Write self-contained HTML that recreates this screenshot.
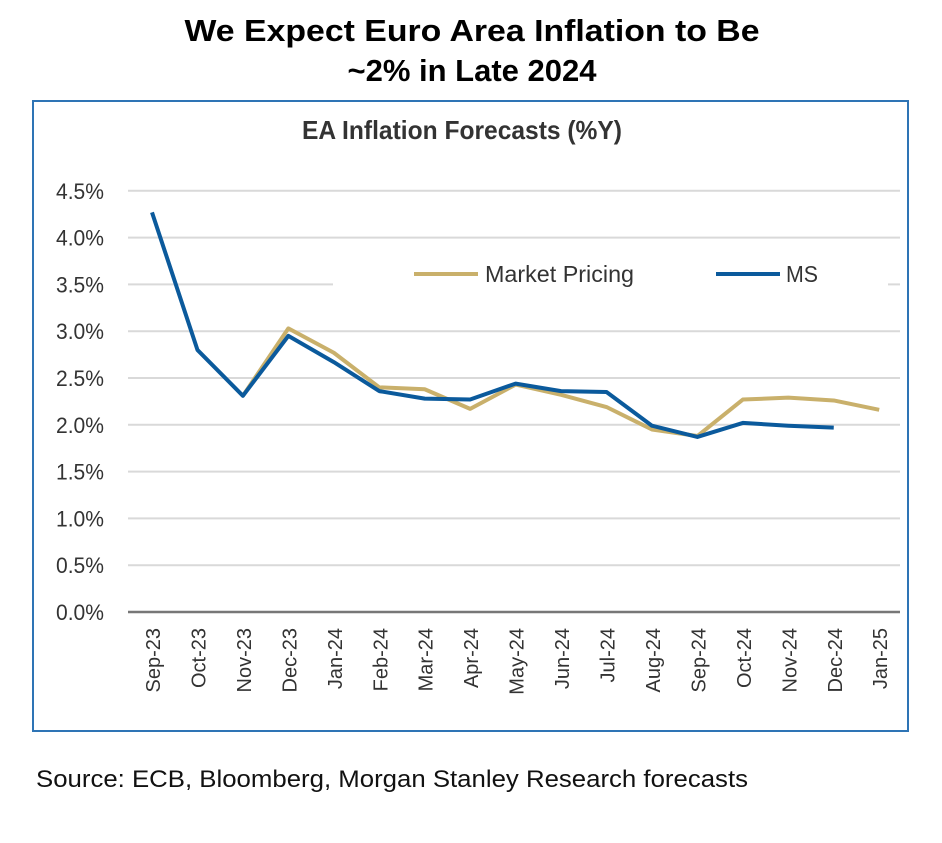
<!DOCTYPE html>
<html><head><meta charset="utf-8"><style>
body{margin:0;background:#fff;width:942px;height:838px;overflow:hidden;font-family:"Liberation Sans",sans-serif}
</style></head><body>
<svg width="942" height="838">
<text x="472" y="41" text-anchor="middle" font-size="31" font-weight="bold" textLength="575" lengthAdjust="spacingAndGlyphs">We Expect Euro Area Inflation to Be</text>
<text x="472" y="81" text-anchor="middle" font-size="31" font-weight="bold">~2% in Late 2024</text>
<rect x="33" y="101" width="875" height="630" fill="none" stroke="#2e74b5" stroke-width="2"/>
<text x="462" y="139" text-anchor="middle" font-size="26" font-weight="bold" fill="#333" textLength="320" lengthAdjust="spacingAndGlyphs">EA Inflation Forecasts (%Y)</text>
<g id="grid"></g><g id="lines"></g><g id="labels"></g>
<rect x="333" y="250" width="555" height="45" fill="#fff"/>
<line x1="414" y1="274" x2="478" y2="274" stroke="#c9b06b" stroke-width="4"/>
<text x="485" y="282" font-size="23" fill="#333" textLength="149" lengthAdjust="spacingAndGlyphs">Market Pricing</text>
<line x1="716" y1="274" x2="780" y2="274" stroke="#0b5a9c" stroke-width="4"/>
<text x="786" y="282" font-size="23" fill="#333" textLength="32" lengthAdjust="spacingAndGlyphs">MS</text>
<text x="36" y="787" font-size="24" fill="#111" textLength="712" lengthAdjust="spacingAndGlyphs">Source: ECB, Bloomberg, Morgan Stanley Research forecasts</text>
</svg>
<script>
const categories=["Sep-23","Oct-23","Nov-23","Dec-23","Jan-24","Feb-24","Mar-24","Apr-24","May-24","Jun-24","Jul-24","Aug-24","Sep-24","Oct-24","Nov-24","Dec-24","Jan-25"];
const marketValues=[null,null,2.31,3.03,2.77,2.40,2.38,2.17,2.43,2.32,2.19,1.95,1.88,2.27,2.29,2.26,2.16];
const msValues=[4.27,2.80,2.31,2.95,2.67,2.36,2.28,2.27,2.44,2.36,2.35,1.99,1.87,2.02,1.99,1.97,null];
const yTicks=[0,0.5,1,1.5,2,2.5,3,3.5,4,4.5];
const NS="http://www.w3.org/2000/svg";
const xS=i=>152+i*45.45;
const yS=v=>612-v*93.6;
const grid=document.getElementById('grid'),lines=document.getElementById('lines'),labels=document.getElementById('labels');
yTicks.forEach(t=>{
 const l=document.createElementNS(NS,'line');
 l.setAttribute('x1',128);l.setAttribute('x2',900);l.setAttribute('y1',yS(t));l.setAttribute('y2',yS(t));
 l.setAttribute('stroke',t===0?'#777':'#d9d9d9');l.setAttribute('stroke-width',t===0?2.5:2);
 
 
 grid.appendChild(l);
 const tx=document.createElementNS(NS,'text');
 tx.setAttribute('x',104);tx.setAttribute('y',yS(t)+8);tx.setAttribute('text-anchor','end');
 tx.setAttribute('font-size','22');tx.setAttribute('fill','#333');
 tx.setAttribute('textLength','48');tx.setAttribute('lengthAdjust','spacingAndGlyphs');
 tx.textContent=t.toFixed(1)+'%';
 
 
 labels.appendChild(tx);
});
categories.forEach((c,i)=>{
 const tx=document.createElementNS(NS,'text');
 const x=xS(i)+8,y=628;
 tx.setAttribute('x',x);tx.setAttribute('y',y);tx.setAttribute('text-anchor','end');
 tx.setAttribute('font-size','20');tx.setAttribute('fill','#333');
 tx.setAttribute('transform',`rotate(-90 ${x} ${y})`);
 tx.textContent=c;
 
 
 labels.appendChild(tx);
});
function drawLine(vals,color,name){
 const pts=[];vals.forEach((v,i)=>{if(v!==null)pts.push(xS(i)+','+yS(v));});
 const p=document.createElementNS(NS,'polyline');
 p.setAttribute('points',pts.join(' '));p.setAttribute('fill','none');
 p.setAttribute('stroke',color);p.setAttribute('stroke-width',4);p.setAttribute('stroke-linejoin','round');
 
 
 lines.appendChild(p);
}
drawLine(marketValues,'#c9b06b','market-pricing-line');
drawLine(msValues,'#0b5a9c','ms-line');
</script>
</body></html>
